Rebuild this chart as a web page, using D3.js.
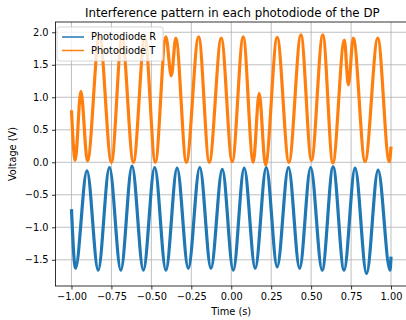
<!DOCTYPE html>
<html>
<head>
<meta charset="utf-8">
<script src="https://cdn.jsdelivr.net/npm/d3@7"></script>
<style>
  body { margin: 0; background: #fff; }
  svg { display: block; font-family: "DejaVu Sans", sans-serif; }
</style>
</head>
<body>
<svg id="chart" width="406" height="320"></svg>
<script>
// peaks / troughs (time in s, voltage in V)
const r_time = [-1.0, -0.975, -0.903, -0.833, -0.7625, -0.691, -0.621, -0.55, -0.479, -0.409, -0.339, -0.269, -0.197, -0.127, -0.056, 0.0125, 0.081, 0.15, 0.219, 0.2875, 0.358, 0.428, 0.497, 0.569, 0.6375, 0.706, 0.775, 0.847, 0.919, 0.994, 1.0]
const r_volt = [-0.72, -1.63, -0.13, -1.66, -0.08, -1.66, -0.06, -1.66, -0.08, -1.66, -0.09, -1.63, -0.08, -1.63, -0.11, -1.66, -0.09, -1.63, -0.08, -1.61, -0.08, -1.63, -0.08, -1.66, -0.07, -1.66, -0.09, -1.71, -0.12, -1.66, -1.45]

const t_time = [-1.0, -0.977, -0.941, -0.9, -0.825, -0.75, -0.684, -0.6125, -0.541, -0.475, -0.409, -0.375, -0.347, -0.281, -0.204, -0.1375, -0.0625, 0.006, 0.075, 0.1375, 0.175, 0.214, 0.2875, 0.361, 0.436, 0.502, 0.573, 0.636, 0.708, 0.733, 0.764, 0.8375, 0.917, 0.989, 1.0]
const t_volt = [0.80, 0.03, 1.09, 0.02, 1.95, 0.0, 1.92, 0.0, 1.92, 0.0, 1.93, 1.33, 1.91, 0.0, 1.93, 0.0, 1.91, 0.01, 1.93, 0.0, 1.06, -0.04, 1.92, 0.0, 1.96, 0.03, 1.96, -0.01, 1.88, 1.19, 1.91, 0.01, 1.91, 0.01, 0.24]

const x_ticks = [-1, -0.75, -0.5, -0.25, 0, 0.25, 0.5, 0.75, 1]
const y_ticks = [-1.5, -1, -0.5, 0, 0.5, 1, 1.5, 2]

const series = [
	{ name: 'Photodiode R', color: '#1f77b4', time: r_time, volt: r_volt },
	{ name: 'Photodiode T', color: '#ff7f0e', time: t_time, volt: t_volt },
]

const m_left = 55.5, m_right = 407, m_top = 22, m_bottom = 286
const font_size = 9.8

const x = d3.scaleLinear().domain([-1.1, 1.1]).range([m_left, m_right])
const y = d3.scaleLinear().domain([-1.903, 2.158]).range([m_bottom, m_top])

const svg = d3.select('#chart')

svg.append('defs').append('clipPath').attr('id', 'plot')
	.append('rect')
	.attr('x', m_left).attr('y', m_top)
	.attr('width', m_right - m_left).attr('height', m_bottom - m_top)

// grid
svg.append('g').selectAll('line').data(x_ticks).enter().append('line')
	.attr('x1', d => x(d)).attr('x2', d => x(d))
	.attr('y1', m_top).attr('y2', m_bottom)
	.attr('stroke', '#b0b0b0').attr('stroke-width', 0.8)
svg.append('g').selectAll('line').data(y_ticks).enter().append('line')
	.attr('x1', m_left).attr('x2', m_right)
	.attr('y1', d => y(d)).attr('y2', d => y(d))
	.attr('stroke', '#b0b0b0').attr('stroke-width', 0.8)

// lines
const line = d3.line().curve(d3.curveMonotoneX)
	.x(d => x(d[0])).y(d => y(d[1]))

svg.append('g').attr('clip-path', 'url(#plot)')
	.selectAll('path').data(series).enter().append('path')
	.attr('d', s => line(s.time.map((t, i) => [t, s.volt[i]])))
	.attr('fill', 'none')
	.attr('stroke', s => s.color)
	.attr('stroke-width', 3.2)
	.attr('stroke-linejoin', 'round')

// axes
const x_axis = d3.axisBottom(x).tickValues(x_ticks).tickSize(3.5).tickPadding(3.5)
const y_axis = d3.axisLeft(y).tickValues(y_ticks).tickSize(3.5).tickPadding(3.5)

const gx = svg.append('g').attr('transform', 'translate(0,' + m_bottom + ')').call(x_axis)
const gy = svg.append('g').attr('transform', 'translate(' + m_left + ',0)').call(y_axis)
for (const g of [gx, gy]) {
	g.select('.domain').remove()
	g.selectAll('text').attr('font-family', '"DejaVu Sans", sans-serif').attr('font-size', font_size).attr('fill', '#000')
	g.selectAll('line').attr('stroke', '#000').attr('stroke-width', 0.8)
}
gx.selectAll('text').text(d => d3.format('.2f')(d).replace('-', '\u2212'))
gy.selectAll('text').text(d => d3.format('.1f')(d).replace('-', '\u2212'))

// spines
svg.append('rect')
	.attr('x', m_left).attr('y', m_top)
	.attr('width', m_right - m_left).attr('height', m_bottom - m_top)
	.attr('fill', 'none').attr('stroke', '#000').attr('stroke-width', 0.8)

// labels
svg.append('text').attr('x', (m_left + m_right) / 2 + 1).attr('y', 16.5)
	.attr('text-anchor', 'middle').attr('font-size', 11.8)
	.text('Interference pattern in each photodiode of the DP')
svg.append('text').attr('x', (m_left + m_right) / 2).attr('y', 314.5)
	.attr('text-anchor', 'middle').attr('font-size', font_size)
	.text('Time (s)')
svg.append('text').attr('transform', 'translate(16,' + (m_top + m_bottom) / 2 + ')rotate(-90)')
	.attr('text-anchor', 'middle').attr('font-size', font_size)
	.text('Voltage (V)')

// legend
const legend = svg.append('g').attr('transform', 'translate(57,27)')
legend.append('rect')
	.attr('width', 106).attr('height', 34).attr('rx', 2)
	.attr('fill', '#fff').attr('fill-opacity', 0.8)
	.attr('stroke', '#ccc').attr('stroke-width', 0.8)
const item = legend.selectAll('.item').data(series).enter().append('g')
	.attr('transform', (d, i) => 'translate(0,' + (10 + i * 13.5) + ')')
item.append('line').attr('x1', 5).attr('x2', 27)
	.attr('stroke', d => d.color).attr('stroke-width', 1.5)
item.append('text').attr('x', 34).attr('dy', '0.35em')
	.attr('font-size', font_size).text(d => d.name)
</script>
</body>
</html>
